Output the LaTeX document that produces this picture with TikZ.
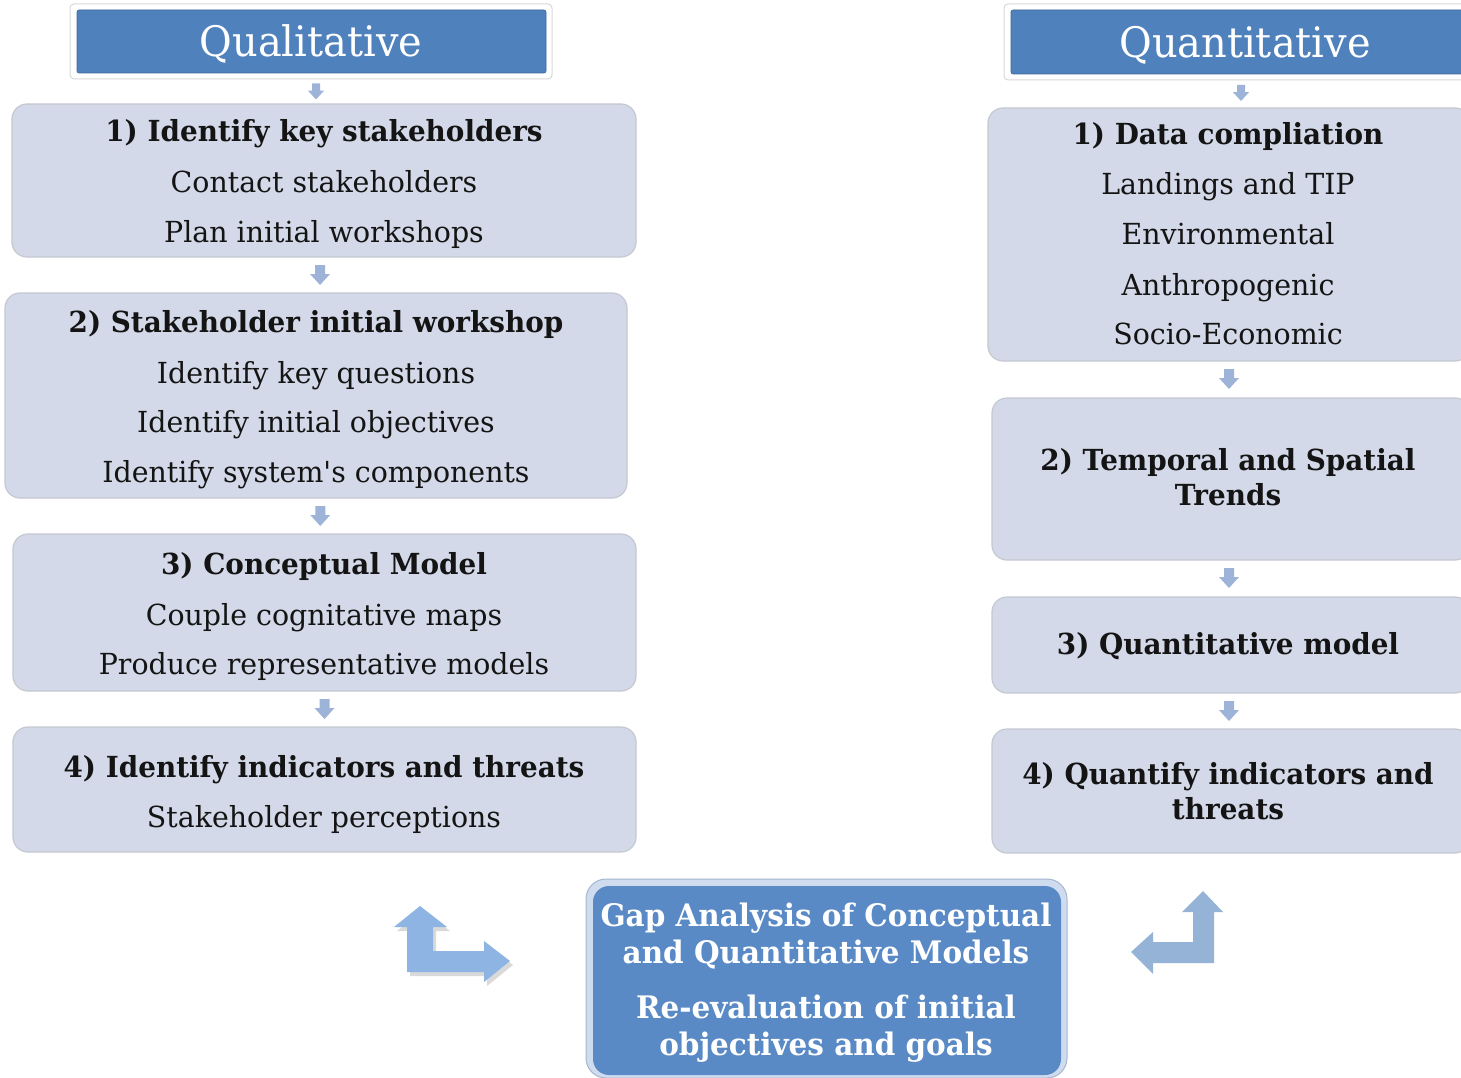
\documentclass[tikz,border=0pt]{standalone}
\usepackage{fontspec}
\setmainfont{DejaVu Serif}
\newfontfamily\fbody[FakeStretch=0.98]{DejaVu Serif}
\newfontfamily\fhead[FakeStretch=0.96]{DejaVu Serif}
\newfontfamily\fgap[FakeStretch=0.95]{DejaVu Serif}
\newfontfamily\fhdr[FakeStretch=0.95]{DejaVu Serif}
\usetikzlibrary{calc}
\definecolor{hdrblue}{HTML}{4F81BD}
\definecolor{boxfill}{HTML}{D3D9E8}
\definecolor{boxline}{HTML}{C4C8D0}
\definecolor{smarrow}{HTML}{9DB3D8}
\definecolor{gapblue}{HTML}{5A8AC6}
\definecolor{gapframe}{HTML}{AFC5E4}
\definecolor{bentL}{HTML}{8DB4E2}
\definecolor{bentR}{HTML}{95B3D7}
\definecolor{ink}{HTML}{141414}
\begin{document}
\begin{tikzpicture}[x=1pt,y=-1pt,
  hdrframe/.style={draw=black!15, fill=white, rounded corners=4pt, line width=1pt, inner sep=0},
  hdrbox/.style={fill=hdrblue, draw=hdrblue!80!black, line width=0.6pt, rounded corners=2pt, inner sep=0},
  hdrtxt/.style={anchor=base, inner sep=0, text=white, font=\fhdr\fontsize{42}{48}\selectfont},
  stepbox/.style={draw=boxline, fill=boxfill, rounded corners=15pt, line width=1.2pt, inner sep=0},
  txt/.style={anchor=base, inner sep=0, text=ink, font=\fbody\fontsize{29}{34}\selectfont},
  head/.style={anchor=base, inner sep=0, text=ink, font=\fhead\bfseries\fontsize{29}{34}\selectfont},
  gaptxt/.style={anchor=base, inner sep=0, text=white, font=\fgap\bfseries\fontsize{31}{36}\selectfont},
  smallarrow/.pic={\fill[smarrow] (-5,-10) -- (5,-10) -- (5,-1) -- (10,-1) -- (0,10) -- (-10,-1) -- (-5,-1) -- cycle;}
]
\useasboundingbox (0,0) rectangle (1461,1078);
\clip (0,0) rectangle (1461,1078);
\fill[white] (0,0) rectangle (1461,1078);

% ---------- Left column ----------
\node[hdrframe, minimum width=482, minimum height=75] (qlf) at (311,41.5) {};
\node[hdrbox, minimum width=469, minimum height=63] (ql) at (311.5,41.5) {};
\node[hdrtxt] (qlt) at (311,57) {Qualitative};

\node[stepbox, minimum width=624, minimum height=153] (l1) at (324,180.5) {};
\node[head] (l1a) at (324,142) {1) Identify key stakeholders};
\node[txt]  (l1b) at (324,193) {Contact stakeholders};
\node[txt]  (l1c) at (324,242) {Plan initial workshops};

\node[stepbox, minimum width=622, minimum height=205] (l2) at (316,395.5) {};
\node[head] (l2a) at (316,332) {2) Stakeholder initial workshop};
\node[txt]  (l2b) at (316,383) {Identify key questions};
\node[txt]  (l2c) at (316,432) {Identify initial objectives};
\node[txt]  (l2d) at (316,482) {Identify system's components};

\node[stepbox, minimum width=623, minimum height=157] (l3) at (324.5,612.5) {};
\node[head] (l3a) at (324,574) {3) Conceptual Model};
\node[txt]  (l3b) at (324,625) {Couple cognitative maps};
\node[txt]  (l3c) at (324,674) {Produce representative models};

\node[stepbox, minimum width=623, minimum height=125] (l4) at (324.5,789.5) {};
\node[head] (l4a) at (324,777) {4) Identify indicators and threats};
\node[txt]  (l4b) at (324,827) {Stakeholder perceptions};

\pic[scale=0.8] at (316,91.5) {smallarrow};
\pic at ($(l1.south)!0.5!(l2.north)$) {smallarrow};
\pic at ($(l2.south)!0.5!(l3.north)$) {smallarrow};
\pic at ($(l3.south)!0.5!(l4.north)$) {smallarrow};

% ---------- Right column ----------
\node[hdrframe, minimum width=480, minimum height=76] (qnf) at (1244,42) {};
\node[hdrbox, minimum width=468, minimum height=64] (qn) at (1245,42) {};
\node[hdrtxt] (qnt) at (1245,58) {Quantitative};

\node[stepbox, minimum width=482, minimum height=253] (r1) at (1229,234.5) {};
\node[head] (r1a) at (1228,145) {1) Data compliation};
\node[txt]  (r1b) at (1228,195) {Landings and TIP};
\node[txt]  (r1c) at (1228,244) {Environmental};
\node[txt]  (r1d) at (1228,295) {Anthropogenic};
\node[txt]  (r1e) at (1228,344) {Socio-Economic};

\node[stepbox, minimum width=478, minimum height=162] (r2) at (1231,479) {};
\node[head] (r2a) at (1228,470) {2) Temporal and Spatial};
\node[head] (r2b) at (1228,505) {Trends};

\node[stepbox, minimum width=478, minimum height=96] (r3) at (1231,645) {};
\node[head] (r3a) at (1228,654) {3) Quantitative model};

\node[stepbox, minimum width=478, minimum height=124] (r4) at (1231,791) {};
\node[head] (r4a) at (1228,784) {4) Quantify indicators and};
\node[head] (r4b) at (1228,819) {threats};

\pic[scale=0.8] at (1241,93) {smallarrow};
\pic at (1229,379) {smallarrow};
\pic at (1229,578) {smallarrow};
\pic at (1229,711) {smallarrow};

% ---------- Gap analysis ----------
\node[draw=gapframe!80!gray, fill=gapframe!60, rounded corners=20pt, line width=1pt, inner sep=0,
      minimum width=481, minimum height=199] (gapf) at (826.5,978.5) {};
\node[fill=gapblue, rounded corners=16pt, inner sep=0,
      minimum width=468, minimum height=189] (gap) at (827,980.5) {};
\node[gaptxt] (g1) at (826,926) {Gap Analysis of Conceptual};
\node[gaptxt] (g2) at (826,963) {and Quantitative Models};
\node[gaptxt] (g3) at (826,1018) {Re-evaluation of initial};
\node[gaptxt] (g4) at (826,1055) {objectives and goals};

% ---------- Bent arrows ----------
\fill[black, opacity=0.15] ($(420,906)+(3,4)$) -- ($(447,927)+(3,4)$) -- ($(433,927)+(3,4)$) -- ($(433,951)+(3,4)$)
  -- ($(484,951)+(3,4)$) -- ($(484,941)+(3,4)$) -- ($(510,961)+(3,4)$) -- ($(484,982)+(3,4)$) -- ($(484,972)+(3,4)$)
  -- ($(407,972)+(3,4)$) -- ($(407,927)+(3,4)$) -- ($(394,927)+(3,4)$) -- cycle;
\fill[bentL] (420,906) -- (447,927) -- (433,927) -- (433,951) -- (484,951) -- (484,941) -- (510,961)
  -- (484,982) -- (484,972) -- (407,972) -- (407,927) -- (394,927) -- cycle;

\fill[bentR] (1203,891) -- (1223,912) -- (1214,912) -- (1214,963) -- (1153,963) -- (1153,974) -- (1131,952)
  -- (1153,932) -- (1153,942) -- (1193,942) -- (1193,912) -- (1182,912) -- cycle;
\end{tikzpicture}
\end{document}
